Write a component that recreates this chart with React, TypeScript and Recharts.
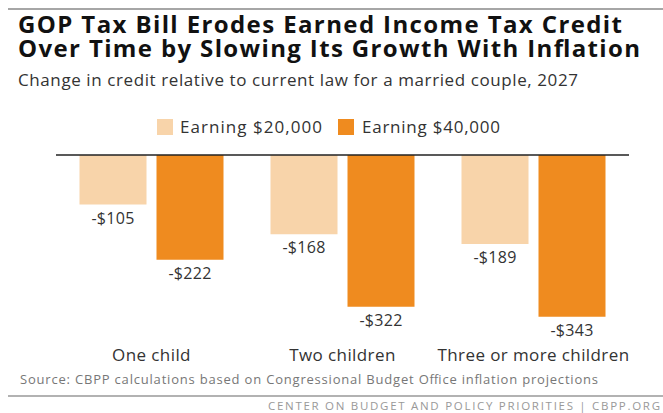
import React from "react";
import { BarChart, Bar, XAxis, YAxis, ReferenceLine, LabelList } from "recharts";

const categories = ["One child", "Two children", "Three or more children"];
const earning20k = [-105, -168, -189];
const earning40k = [-222, -322, -343];
const seriesNames = ["Earning $20,000", "Earning $40,000"];
const seriesColors = ["#F8D4AA", "#EF8B1F"];

const data = categories.map((c, i) => ({ cat: c, a: earning20k[i], b: earning40k[i] }));

const FONT = "'Open Sans', 'DejaVu Sans', sans-serif";

const fmt = (v: number) => (v < 0 ? "-$" : "$") + Math.abs(v);

const renderValue = (props: any) => {
  const { x, y, width, height, value } = props;
  const bottom = Math.max(y, y + height);
  return (
    <text
      x={x + width / 2}
      y={bottom + 19}
      textAnchor="middle"
      fontSize={16}
      letterSpacing={0.3}
      fontFamily={FONT}
      fill="#333"
    >
      {fmt(value)}
    </text>
  );
};

export default function App() {
  return (
    <div style={{ position: "absolute", left: 0, top: 0, width: 663, height: 413, background: "#fff" }}>
      <BarChart
        width={663}
        height={413}
        data={data}
        margin={{ top: 155, right: 34, bottom: 63, left: 56 }}
        barCategoryGap={23.5}
        barGap={10}
      >
        <XAxis
          dataKey="cat"
          axisLine={false}
          tickLine={false}
          height={30}
          tickMargin={23}
          interval={0}
          tick={{ fill: "#333", fontSize: 17, fontFamily: FONT, letterSpacing: 0.4 }}
        />
        <YAxis hide domain={[-350, 0]} />
        <Bar dataKey="a" name={seriesNames[0]} fill={seriesColors[0]} isAnimationActive={false}>
          <LabelList dataKey="a" content={renderValue} />
        </Bar>
        <Bar dataKey="b" name={seriesNames[1]} fill={seriesColors[1]} isAnimationActive={false}>
          <LabelList dataKey="b" content={renderValue} />
        </Bar>
        <ReferenceLine y={0} stroke="#222" strokeWidth={1.5} />
      </BarChart>
      <svg
        width={663}
        height={413}
        style={{ position: "absolute", left: 0, top: 0, pointerEvents: "none" }}
      >
        <line x1={8} x2={663} y1={9} y2={9} stroke="#888" strokeWidth={1.5} />
        <text x={18} y={33} fontFamily={FONT} fontWeight={700} fontSize={24} fill="#111" textLength={604} lengthAdjust="spacing">
          GOP Tax Bill Erodes Earned Income Tax Credit
        </text>
        <text x={18} y={57} fontFamily={FONT} fontWeight={700} fontSize={24} fill="#111" textLength={622} lengthAdjust="spacing">
          Over Time by Slowing Its Growth With Inflation
        </text>
        <text x={18} y={86} fontFamily={FONT} fontSize={17} fill="#333" textLength={560} lengthAdjust="spacing">
          Change in credit relative to current law for a married couple, 2027
        </text>
        <rect x={157} y={119} width={16} height={16} fill={seriesColors[0]} />
        <text x={180} y={133} fontFamily={FONT} fontSize={17} fill="#333" textLength={142} lengthAdjust="spacing">
          {seriesNames[0]}
        </text>
        <rect x={338} y={119} width={16} height={16} fill={seriesColors[1]} />
        <text x={362} y={133} fontFamily={FONT} fontSize={17} fill="#333" textLength={138} lengthAdjust="spacing">
          {seriesNames[1]}
        </text>
        <text x={20} y={384} fontFamily={FONT} fontSize={13} fill="#777" textLength={578} lengthAdjust="spacing">
          Source: CBPP calculations based on Congressional Budget Office inflation projections
        </text>
        <line x1={8} x2={663} y1={396} y2={396} stroke="#999" strokeWidth={1.5} />
        <text
          x={268}
          y={410}
          fontFamily={FONT}
          fontSize={11.5}
          fill="#999"
          textLength={392}
          lengthAdjust="spacing"
        >
          CENTER ON BUDGET AND POLICY PRIORITIES | CBPP.ORG
        </text>
      </svg>
    </div>
  );
}
